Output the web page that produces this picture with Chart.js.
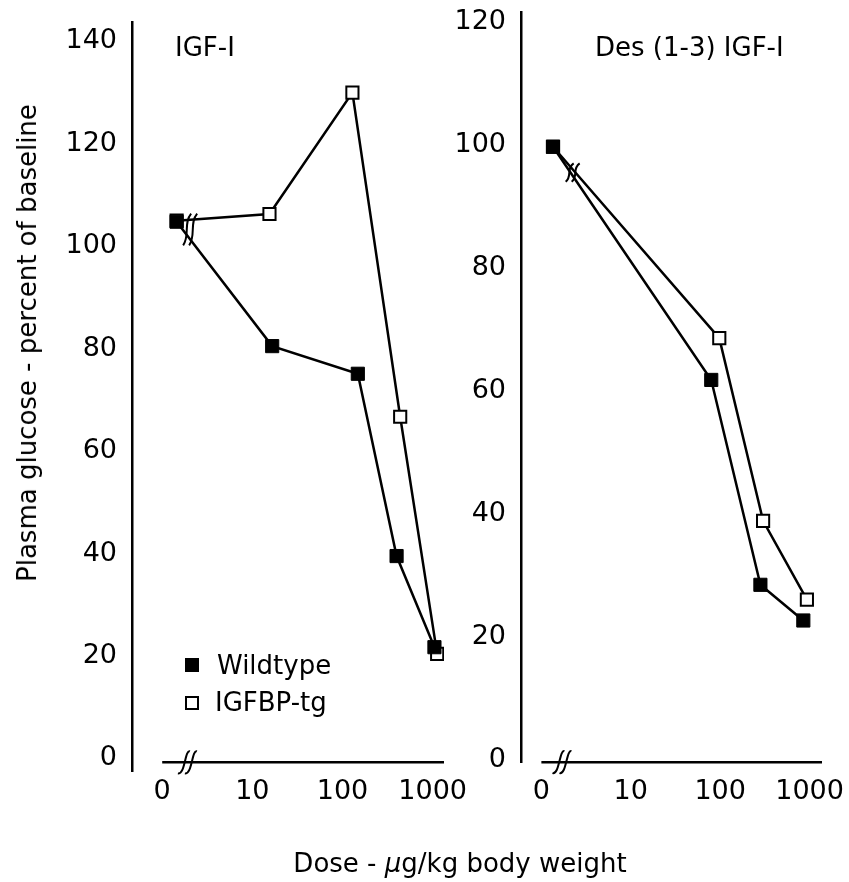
<!DOCTYPE html>
<html>
<head>
<meta charset="utf-8">
<script src="https://cdn.jsdelivr.net/npm/chart.js@4.4.0/dist/chart.umd.min.js"></script>
<style>
  body { margin: 0; background: #fff; font-family: "DejaVu Sans", sans-serif; color: #000; }
  #wrap { position: relative; width: 849px; height: 882px; overflow: hidden; background: #fff; }
  canvas { position: absolute; left: 0; top: 0; }
  .txt { position: absolute; font-size: 26px; line-height: 26px; white-space: nowrap; }
  .sq { position: absolute; width: 14px; height: 14px; box-sizing: border-box; }
  #ytitle { left: 27px; top: 343px; transform: translate(-50%, -50%) rotate(-90deg); }
  #xtitle { left: 460px; top: 850px; transform: translateX(-50%); }
</style>
</head>
<body>
<div id="wrap">
  <canvas id="igf" width="849" height="882"></canvas>
  <canvas id="des" width="849" height="882"></canvas>
  <div class="txt" style="left:175px; top:34px">IGF-I</div>
  <div class="txt" style="left:595px; top:34px">Des (1-3) IGF-I</div>
  <div class="sq" style="left:185px; top:658px; background:#000"></div>
  <div class="txt" style="left:217px; top:652px">Wildtype</div>
  <div class="sq" style="left:185px; top:696px; border:2px solid #000; background:#fff"></div>
  <div class="txt" style="left:215px; top:689px">IGFBP-tg</div>
  <div class="txt" id="ytitle">Plasma glucose - percent of baseline</div>
  <div class="txt" id="xtitle">Dose - <i>µ</i>g/kg body weight</div>
</div>
<script>
// dose axis is broken log scale: position 0 = no dose, 1 = 10, 2 = 100, 3 = 1000 µg/kg
const doseLabels = ['0', '10', '100', '1000'];
const doseTickPos = [0, 1, 2, 3];
const igfYTicks = [0, 20, 40, 60, 80, 100, 120, 140];
const desYTicks = [0, 20, 40, 60, 80, 100, 120];

// IGF-I panel
const igfWildX = [0.16, 1.22, 2.17, 2.6, 3.02];
const igfWildY = [104.8, 80.5, 75.1, 39.5, 21.7];
const igfTgX = [0.16, 1.19, 2.11, 2.64, 3.05];
const igfTgY = [105, 106.3, 130, 66.7, 20.4];

// Des (1-3) IGF-I panel
const desWildX = [0.13, 1.9, 2.45, 2.93];
const desWildY = [99.7, 61.8, 28.5, 22.7];
const desTgX = [0.13, 1.99, 2.48, 2.97];
const desTgY = [99.7, 68.6, 38.9, 26.1];

const FONT = { family: 'DejaVu Sans', size: 27 };

function pts(xs, ys) {
    return xs.map((x, i) => ({ x: x, y: ys[i] }));
}

// x axis line (detached from y axis) + the squiggle breaks
const breaks = {
    id: 'breaks',
    afterDatasetsDraw(chart, args, o) {
        const { ctx, chartArea } = chart;
        const x = chart.scales.x, y = chart.scales.y;
        ctx.save();
        ctx.strokeStyle = '#000';
        ctx.lineWidth = 2.5;
        const ay = y.getPixelForValue(0) + o.axisDrop;
        ctx.beginPath();
        ctx.moveTo(x.getPixelForValue(0), ay);
        ctx.lineTo(chartArea.right, ay);
        ctx.stroke();

        ctx.lineWidth = 2;
        const bx = x.getPixelForValue(o.axisBreak);
        [-3.5, 3.5].forEach(d => {
            ctx.beginPath();
            ctx.moveTo(bx + d + 6, ay - 11);
            ctx.bezierCurveTo(bx + d + 1, ay - 13, bx + d + 1, ay + 13, bx + d - 6, ay + 11);
            ctx.stroke();
        });

        // break across first segment of both lines
        const lx = x.getPixelForValue(o.lineBreak);
        const ys = chart.data.datasets.map((ds, i) => {
            const p = chart.getDatasetMeta(i).data;
            return p[0].y + (p[1].y - p[0].y) * (lx - p[0].x) / (p[1].x - p[0].x);
        });
        const top = Math.min(...ys) - 6, bot = Math.max(...ys) + 6, h = bot - top;
        [-3, 3].forEach(d => {
            ctx.beginPath();
            ctx.moveTo(lx + d + 4, top);
            ctx.bezierCurveTo(lx + d - 4, top + h * 0.3, lx + d + 3, bot - h * 0.3, lx + d - 4, bot);
            ctx.stroke();
        });
        ctx.restore();
    }
};

function panel(id, cfg) {
    return new Chart(document.getElementById(id), {
        type: 'line',
        data: {
            datasets: [
                {
                    label: 'Wildtype',
                    data: pts(cfg.wx, cfg.wy),
                    borderColor: '#000',
                    borderWidth: 2.5,
                    pointStyle: 'rect',
                    pointRadius: 9.3,
                    pointBackgroundColor: '#000',
                    pointBorderColor: '#000',
                    pointBorderWidth: 1
                },
                {
                    label: 'IGFBP-tg',
                    data: pts(cfg.tx, cfg.ty),
                    borderColor: '#000',
                    borderWidth: 2.5,
                    pointStyle: 'rect',
                    pointRadius: 8.6,
                    pointBackgroundColor: '#fff',
                    pointBorderColor: '#000',
                    pointBorderWidth: 2
                }
            ]
        },
        options: {
            responsive: false,
            animation: false,
            layout: { padding: cfg.pad },
            plugins: {
                legend: { display: false },
                tooltip: { enabled: false },
                breaks: cfg.breaks
            },
            scales: {
                x: {
                    type: 'linear',
                    min: cfg.xMin,
                    max: cfg.xMax,
                    grid: { display: false, drawTicks: false },
                    border: { display: false },
                    ticks: {
                        font: FONT,
                        color: '#000',
                        padding: cfg.xPad,
                        callback: (v, i) => doseLabels[i]
                    },
                    afterBuildTicks: s => { s.ticks = doseTickPos.map(v => ({ value: v })); },
                    afterFit: s => { s.height = 60; s.paddingLeft = 0; s.paddingRight = 0; }
                },
                y: {
                    min: cfg.yMin,
                    max: cfg.yMax,
                    grid: { display: false, drawTicks: false },
                    border: { display: true, color: '#000', width: 2.5 },
                    ticks: { font: FONT, color: '#000', padding: 15 },
                    afterBuildTicks: s => { s.ticks = cfg.yTicks.map(v => ({ value: v })); },
                    afterFit: s => { s.width = 132; s.paddingTop = 0; s.paddingBottom = 0; }
                }
            }
        },
        plugins: [breaks]
    });
}

panel('igf', {
    wx: igfWildX, wy: igfWildY, tx: igfTgX, ty: igfTgY,
    yTicks: igfYTicks,
    pad: { left: 0, top: 22, right: 405, bottom: 51 },
    xMin: -0.335, xMax: 3.126, yMin: -2.48, yMax: 143.8, xPad: 5,
    breaks: { axisDrop: 4, axisBreak: 0.28, lineBreak: 0.31 }
});

panel('des', {
    wx: desWildX, wy: desWildY, tx: desTgX, ty: desTgY,
    yTicks: desYTicks,
    pad: { left: 389, top: 12, right: 27, bottom: 60 },
    xMin: -0.228, xMax: 3.139, yMin: -0.3, yMax: 121.6, xPad: 14,
    breaks: { axisDrop: 2, axisBreak: 0.23, lineBreak: 0.35 }
});
</script>
</body>
</html>
